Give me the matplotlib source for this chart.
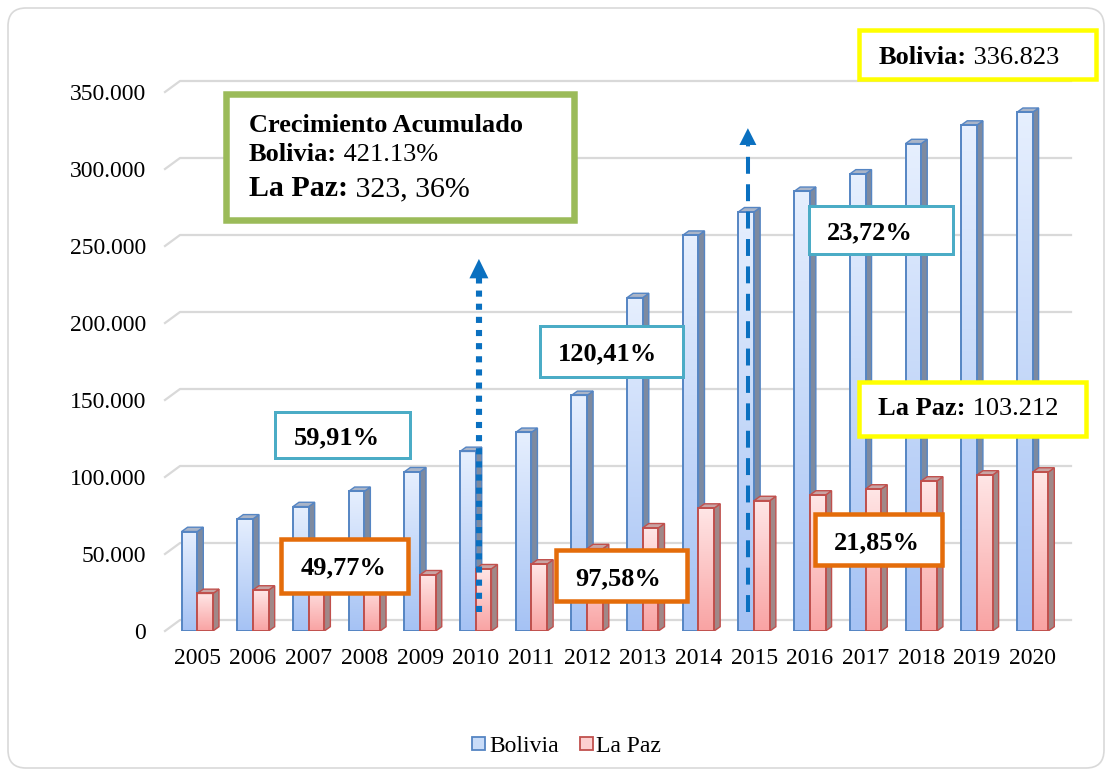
import numpy as np
import matplotlib
matplotlib.use('Agg')
import matplotlib.pyplot as plt
from matplotlib.patches import Rectangle, Polygon, FancyBboxPatch
from matplotlib.colors import LinearSegmentedColormap

# ---------------- data ----------------
years = [str(y) for y in range(2005, 2021)]
bolivia = [64600, 72800, 80800, 90700, 103400, 116600, 129000, 153000,
           216500, 257000, 272200, 285500, 296800, 316500, 328500, 336823]
la_paz = [24380, 26600, 29500, 32800, 36500, 40400, 43500, 53500,
          67000, 79800, 84700, 88300, 92200, 97400, 101300, 103212]
y_ticks = [0, 50000, 100000, 150000, 200000, 250000, 300000, 350000]
y_tick_labels = ['0', '50.000', '100.000', '150.000', '200.000',
                 '250.000', '300.000', '350.000']
series_names = ['Bolivia', 'La Paz']

FONT = 'Liberation Serif'
plt.rcParams['font.family'] = [FONT, 'DejaVu Serif']

W, H = 1112, 776
fig = plt.figure(figsize=(W / 100, H / 100), dpi=100)
fig.patch.set_facecolor('white')

ax_l, ax_r, ax_t, ax_b = 165, 1056, 92, 631
ax = fig.add_axes([ax_l / W, (H - ax_b) / H, (ax_r - ax_l) / W, (ax_b - ax_t) / H])
xlim = (-0.58, 15.42)
ylim = (0, 350000)
px_x = (ax_r - ax_l) / (xlim[1] - xlim[0])
px_y = (ax_b - ax_t) / (ylim[1] - ylim[0])

# back wall gridlines (3D offset)
dxw, dyw = 15 / px_x, 11 / px_y
for v in y_ticks:
    ax.plot([xlim[0], xlim[0] + dxw, xlim[1] + dxw], [v, v + dyw, v + dyw],
            color='#d9d9d9', lw=1.6, clip_on=False, zorder=0.5)

# bars
bw = 15.7 / px_x
bdx, bdy = 6 / px_x, 4.3 / px_y
grad = np.linspace(0, 1, 128).reshape(-1, 1)
cmap_b = LinearSegmentedColormap.from_list('b', ['#a5c2f4', '#e6effe'])
cmap_r = LinearSegmentedColormap.from_list('r', ['#f9a3a3', '#ffe6e6'])


def bar3d(x0, x1, h, cmap, edge, side_c, top_c, z):
    ax.imshow(grad, extent=[x0, x1, 0, h], origin='lower', aspect='auto',
              cmap=cmap, zorder=z, interpolation='bilinear')
    ax.add_patch(Polygon([(x1, 0), (x1 + bdx, bdy), (x1 + bdx, h + bdy), (x1, h)],
                         closed=True, fc=side_c, ec=edge, lw=1.0, zorder=z - 0.05))
    ax.add_patch(Polygon([(x0, h), (x0 + bdx, h + bdy), (x1 + bdx, h + bdy), (x1, h)],
                         closed=True, fc=top_c, ec=edge, lw=1.0, zorder=z + 0.1))
    ax.add_patch(Rectangle((x0, 0), x1 - x0, h, fill=False, ec=edge, lw=1.4,
                           zorder=z + 0.1))


for i in range(len(years)):
    bar3d(i - bw, i, bolivia[i], cmap_b, '#5585c3', '#7d8aa0', '#aab5c8', 2)
    bar3d(i, i + bw, la_paz[i], cmap_r, '#c0504d', '#a08888', '#c8a4a4', 3)

# arrows
arrow_col = '#0a70c0'
ax.plot([5.057, 5.057], [12300, 229000], color=arrow_col, lw=4.4,
        dashes=(1.0, 1.15), dash_capstyle='butt', zorder=6)
hw = 9.5 / px_x
ax.add_patch(Polygon([(5.057 - hw, 229000), (5.057 + hw, 229000), (5.057, 241600)],
                     closed=True, fc=arrow_col, ec='none', zorder=6))
ax.plot([9.887, 9.887], [12300, 315600], color=arrow_col, lw=2.9,
        dashes=(4.2, 2.6), dash_capstyle='butt', zorder=6)
hw2 = 8.5 / px_x
ax.add_patch(Polygon([(9.887 - hw2, 315600), (9.887 + hw2, 315600), (9.887, 326500)],
                     closed=True, fc=arrow_col, ec='none', zorder=6))

ax.set_xlim(*xlim)
ax.set_ylim(*ylim)
ax.set_xticks(range(len(years)))
ax.set_xticklabels(years, fontsize=17, family=FONT)
ax.set_yticks(y_ticks)
ax.set_yticklabels(y_tick_labels, fontsize=17, family=FONT)
ax.tick_params(axis='x', length=0, pad=12)
ax.tick_params(axis='y', length=0, pad=13.5)
for s in ax.spines.values():
    s.set_visible(False)
ax.patch.set_alpha(0)

# ---------------- overlay (pixel coordinates) ----------------
ov = fig.add_axes([0, 0, 1, 1])
ov.set_xlim(0, W)
ov.set_ylim(H, 0)
ov.axis('off')

ov.add_patch(FancyBboxPatch((8, 8), W - 16, H - 16,
                            boxstyle='round,pad=0,rounding_size=18',
                            fc='none', ec='#d9d9d9', lw=1.2))


def box(x0, y0, x1, y1, color, lw_px):
    h = lw_px / 2
    ov.add_patch(Rectangle((x0 + h, y0 + h), x1 - x0 - lw_px, y1 - y0 - lw_px,
                           fc='white', ec=color, lw=lw_px * 0.72, zorder=5))


renderer = fig.canvas.get_renderer()


def mixed(x, y, parts, size):
    cur = x
    for s, w in parts:
        t = ov.text(cur, y, s, fontsize=size, fontweight=w, family=FONT,
                    ha='left', va='baseline', zorder=7)
        bb = t.get_window_extent(renderer=renderer)
        cur += bb.width


# green cumulative box
box(223, 91, 577, 223, '#9bbb59', 6.5)
mixed(249, 131.5, [('Crecimiento Acumulado', 'bold')], 19)
mixed(249, 161, [('Bolivia:', 'bold'), (' 421.13%', 'normal')], 19)
mixed(249, 196.5, [('La Paz:', 'bold'), (' 323, 36%', 'normal')], 21.5)

# yellow boxes
box(857, 28, 1098, 81, '#ffff00', 4.5)
mixed(879, 63.5, [('Bolivia:', 'bold'), (' 336.823', 'normal')], 19)
box(857, 380, 1088, 438, '#ffff00', 4.5)
mixed(878, 415, [('La Paz:', 'bold'), (' 103.212', 'normal')], 19)

# percentage boxes
pct_boxes = [
    ((273, 410, 411, 459), '#4bacc6', 3, '59,91%', (337, 444)),
    ((538, 324, 684, 378), '#4bacc6', 3, '120,41%', (608, 360)),
    ((807, 204, 954, 255), '#4bacc6', 3, '23,72%', (870, 239)),
    ((279, 537, 410, 595), '#e46c0a', 4.5, '49,77%', (344, 574)),
    ((554, 548, 689, 603), '#e46c0a', 4.5, '97,58%', (618, 585)),
    ((813, 512, 944, 567), '#e46c0a', 4.5, '21,85%', (877, 549)),
]
for (x0, y0, x1, y1), c, lw, txt, (tx, ty) in pct_boxes:
    box(x0, y0, x1, y1, c, lw)
    ov.text(tx, ty, txt, fontsize=19, fontweight='bold', family=FONT,
            ha='center', va='baseline', zorder=7)

# legend
ov.add_patch(Rectangle((472, 736.5), 13, 13, fc='#c9dcf8', ec='#5585c3', lw=1.3, zorder=5))
ov.text(489, 751.5, series_names[0], fontsize=17, family=FONT, ha='left', va='baseline')
ov.add_patch(Rectangle((579.5, 736.5), 13, 13, fc='#fcd0d0', ec='#c0504d', lw=1.3, zorder=5))
ov.text(596, 751.5, series_names[1], fontsize=17, family=FONT, ha='left', va='baseline')

fig.savefig('out.png', dpi=100, facecolor='white')
